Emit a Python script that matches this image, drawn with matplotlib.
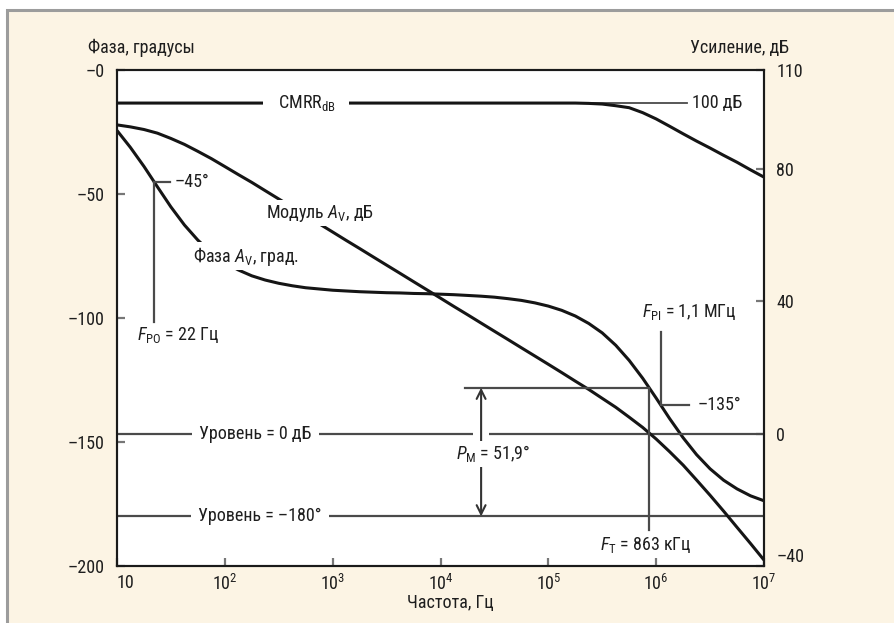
import matplotlib
matplotlib.use('Agg')
import matplotlib.pyplot as plt
import matplotlib.patches as mpatches
from matplotlib import font_manager as fm
from matplotlib.ticker import NullLocator

# ---------------- data ----------------
freq_hz = [10, 13.3, 17.8, 23.7, 31.6, 42.2, 56.2, 75.0, 100, 133, 178, 237, 316, 422, 562, 750,
           1e3, 1.33e3, 1.78e3, 2.37e3, 3.16e3, 4.22e3, 5.62e3, 7.5e3,
           1e4, 1.33e4, 1.78e4, 2.37e4, 3.16e4, 4.22e4, 5.62e4, 7.5e4,
           1e5, 1.33e5, 1.78e5, 2.37e5, 3.16e5, 4.22e5, 5.62e5, 7.5e5,
           1e6, 1.33e6, 1.78e6, 2.37e6, 3.16e6, 4.22e6, 5.62e6, 7.5e6, 1e7]

phase_deg = [-24.4, -31.2, -38.9, -47.1, -55.2, -62.5, -68.6, -73.7, -77.6, -80.6, -83.0, -84.7,
             -86.0, -87.0, -87.8, -88.3, -88.8, -89.1, -89.4, -89.6, -89.8, -89.9, -90.1, -90.2,
             -90.4, -90.6, -90.9, -91.2, -91.6, -92.2, -92.9, -93.9, -95.2, -96.9, -99.2, -102.2,
             -106.0, -111.0, -117.1, -124.3, -132.3, -140.5, -148.3, -155.1, -160.8, -165.4,
             -168.9, -171.7, -173.7]

gain_db = [93.4, 92.8, 92.0, 90.9, 89.3, 87.5, 85.4, 83.2, 80.8, 78.4, 76.0, 73.5, 71.0, 68.5,
           66.0, 63.5, 61.0, 58.5, 56.0, 53.5, 51.0, 48.5, 46.0, 43.5, 41.0, 38.5, 36.0, 33.5,
           31.0, 28.5, 26.0, 23.5, 21.0, 18.5, 15.9, 13.4, 10.7, 8.0, 5.0, 1.9, -1.6, -5.4,
           -9.5, -14.0, -18.6, -23.4, -28.3, -33.2, -38.2]

cmrr_db = [100.0, 100.0, 100.0, 100.0, 100.0, 100.0, 100.0, 100.0, 100.0, 100.0, 100.0, 100.0,
           100.0, 100.0, 100.0, 100.0, 100.0, 100.0, 100.0, 100.0, 100.0, 100.0, 100.0, 100.0,
           100.0, 100.0, 100.0, 100.0, 100.0, 100.0, 100.0, 100.0, 100.0, 100.0, 100.0,
           99.9, 99.7, 99.2, 98.6, 97.1, 95.2, 93.0, 90.7, 88.5, 86.4, 84.2, 82.1, 79.8, 77.6]

phase_ticks = [0, -50, -100, -150, -200]
phase_labels = ['–0', '–50', '–100', '–150', '–200']
gain_ticks = [110, 80, 40, 0, -40]
gain_labels = ['110', '80', '40', '0', '–40']
freq_ticks = [10, 1e2, 1e3, 1e4, 1e5, 1e6, 1e7]
freq_labels = ['10', r'$10^{2}$', r'$10^{3}$', r'$10^{4}$', r'$10^{5}$', r'$10^{6}$', r'$10^{7}$']

F_PO = 22.0          # Hz, first pole
F_PI = 1.1e6         # Hz, second pole
F_T = 863e3          # Hz, unity gain
PM = 51.9            # deg, phase margin
CMRR_DC = 100.0      # dB

# ---------------- fonts ----------------
def pick(names):
    for n in names:
        try:
            fm.findfont(fm.FontProperties(family=n), fallback_to_default=False)
            return n
        except Exception:
            pass
    return 'DejaVu Sans'

FONT = pick(['Liberation Sans Narrow', 'Roboto Condensed', 'Liberation Sans'])
plt.rcParams['font.family'] = [FONT, 'DejaVu Sans']
plt.rcParams['mathtext.fontset'] = 'custom'
plt.rcParams['mathtext.rm'] = FONT
plt.rcParams['mathtext.it'] = FONT + ':italic'
plt.rcParams['mathtext.bf'] = FONT + ':bold'

FS = 13
TXT = '#1e1e1e'
CURVE = '#151515'
GUIDE = '#4a4a4a'

W, H = 894, 623
fig = plt.figure(figsize=(W / 100, H / 100), dpi=100)
fig.patch.set_facecolor('white')
panel = mpatches.Rectangle((7 / W, -0.05), 1.2, 1.05 - 10 / H, transform=fig.transFigure,
                           facecolor='#fcf4e4', edgecolor='#9c9c9c', lw=2.2, zorder=-10)
fig.patches.append(panel)

ax1 = fig.add_axes([117 / W, 57 / H, 647 / W, 496 / H])
ax1.set_facecolor('white')
ax1.set_xscale('log')
ax1.set_xlim(10, 1e7)
ax1.set_ylim(-200, 0)
ax2 = ax1.twinx()
ax2.set_ylim(-40, 110)

# curves
ax1.plot(freq_hz, phase_deg, color=CURVE, lw=2.2, zorder=3, solid_capstyle='butt')
ax2.plot(freq_hz, gain_db, color=CURVE, lw=2.2, zorder=3, solid_capstyle='butt')
ax2.plot(freq_hz, cmrr_db, color=CURVE, lw=2.2, zorder=3, solid_capstyle='butt')

# level lines
ax2.axhline(0, color=GUIDE, lw=1.6, zorder=2)
ax1.axhline(-180, color=GUIDE, lw=1.6, zorder=2)

# ticks
ax1.set_xticks(freq_ticks)
ax1.set_xticklabels(freq_labels)
ax1.xaxis.set_minor_locator(NullLocator())
ax1.set_yticks(phase_ticks)
ax1.set_yticklabels(phase_labels)
ax2.set_yticks(gain_ticks)
ax2.set_yticklabels(gain_labels)
ax1.tick_params(axis='both', direction='in', length=6, width=1.6, color='#777777',
                labelsize=FS, labelcolor=TXT)
ax1.tick_params(axis='y', pad=9)
ax1.tick_params(axis='x', pad=6)
ax2.tick_params(axis='y', direction='in', length=6, width=1.6, color='#777777',
                labelsize=FS, labelcolor=TXT, pad=9)
ax1.get_xticklabels()[0].set_ha('left')
ax2.get_yticklabels()[-1].set_va('bottom')
for a in (ax1, ax2):
    for s in a.spines.values():
        s.set_color('#1a1a1a')
        s.set_linewidth(1.5)

tp = ax1.transData   # phase coordinates
tg = ax2.transData   # gain coordinates
wbox = dict(boxstyle='square,pad=0.4', facecolor='white', edgecolor='none')
wbox_s = dict(boxstyle='square,pad=0.15', facecolor='white', edgecolor='none')

# CMRR label + leader
ax2.plot([1e5, 1.93e6], [CMRR_DC, CMRR_DC], color=GUIDE, lw=1.3, zorder=2.5)
ax2.text(566, CMRR_DC, '  CMRR$_{\\mathrm{dB}}$  ', transform=tg, ha='center', va='center',
         fontsize=FS, color=TXT, bbox=wbox, zorder=6)
ax2.text(2.15e6, CMRR_DC, '100 дБ', transform=tg, ha='left', va='center', fontsize=FS, color=TXT,
         zorder=6)

# curve labels
ax2.text(764, -57.7, 'Модуль $\\mathit{A}_{\\mathrm{V}}$, дБ', transform=tp, ha='center',
         va='center', fontsize=FS, color=TXT, bbox=wbox_s, zorder=6)
ax2.text(157, -75.0, 'Фаза $\\mathit{A}_{\\mathrm{V}}$, град.', transform=tp, ha='center',
         va='center', fontsize=FS, color=TXT, bbox=wbox_s, zorder=6)

# F_PO marker
ax2.plot([F_PO, F_PO], [-45, -101.6], color=GUIDE, lw=1.6, transform=tp, zorder=4)
ax2.plot([F_PO, 31], [-45, -45], color=GUIDE, lw=1.6, transform=tp, zorder=4)
ax2.text(34.5, -45, '–45°', transform=tp, ha='left', va='center', fontsize=FS, color=TXT, zorder=6)
ax2.text(15.3, -106.9, '$\\mathit{F}_{\\mathrm{PO}}$ = 22 Гц', transform=tp, ha='left',
         va='center', fontsize=FS, color=TXT, zorder=6)

# F_PI marker
ax2.plot([F_PI, F_PI], [-105.6, -135], color=GUIDE, lw=1.6, transform=tp, zorder=4)
ax2.plot([F_PI, 2.02e6], [-135, -135], color=GUIDE, lw=1.6, transform=tp, zorder=4)
ax2.text(2.44e6, -135, '–135°', transform=tp, ha='left', va='center', fontsize=FS, color=TXT,
         zorder=6)
ax2.text(7.4e5, -97.6, '$\\mathit{F}_{\\mathrm{PI}}$ = 1,1 МГц', transform=tp, ha='left',
         va='center', fontsize=FS, color=TXT, zorder=6)

# phase margin construction
pm_top = -180 + PM
ax2.plot([1.69e4, F_T], [pm_top, pm_top], color=GUIDE, lw=1.6, transform=tp, zorder=4)
ax2.plot([F_T, F_T], [pm_top, -185.5], color=GUIDE, lw=1.6, transform=tp, zorder=4)
ax2.text(8.05e5, -191.5, '$\\mathit{F}_{\\mathrm{T}}$ = 863 кГц', transform=tp, ha='center',
         va='center', fontsize=FS, color=TXT, zorder=6)
x_arrow = 2.38e4
ax2.text(x_arrow, 0, '    ', transform=tg, ha='center', va='center', fontsize=FS,
         bbox=dict(boxstyle='square,pad=0.0', facecolor='white', edgecolor='none'), zorder=2.6)
ax2.annotate('', xy=(x_arrow, -180), xytext=(x_arrow, pm_top), xycoords=tp, textcoords=tp,
             arrowprops=dict(arrowstyle='<->', lw=1.5, color='#333333', shrinkA=0, shrinkB=0,
                             mutation_scale=16), zorder=4)
ax2.text(3.07e4, -154.8, '$\\mathit{P}_{\\mathrm{M}}$ = 51,9°', transform=tp, ha='center',
         va='center', fontsize=FS, color=TXT, bbox=wbox_s, zorder=6)

# level labels
ax2.text(57.5, 0, 'Уровень = 0 дБ', transform=tg, ha='left', va='center', fontsize=FS,
         color=TXT, bbox=wbox, zorder=6)
ax2.text(56.4, -180, 'Уровень = –180°', transform=tp, ha='left', va='center', fontsize=FS,
         color=TXT, bbox=wbox, zorder=6)

# axis titles
fig.text(88 / W, 1 - 48 / H, 'Фаза, градусы', ha='left', va='center', fontsize=FS, color=TXT)
fig.text(789 / W, 1 - 48 / H, 'Усиление, дБ', ha='right', va='center', fontsize=FS, color=TXT)
fig.text(450 / W, 1 - 603 / H, 'Частота, Гц', ha='center', va='center', fontsize=FS, color=TXT)

fig.savefig('out.png', dpi=100, facecolor=fig.get_facecolor())
